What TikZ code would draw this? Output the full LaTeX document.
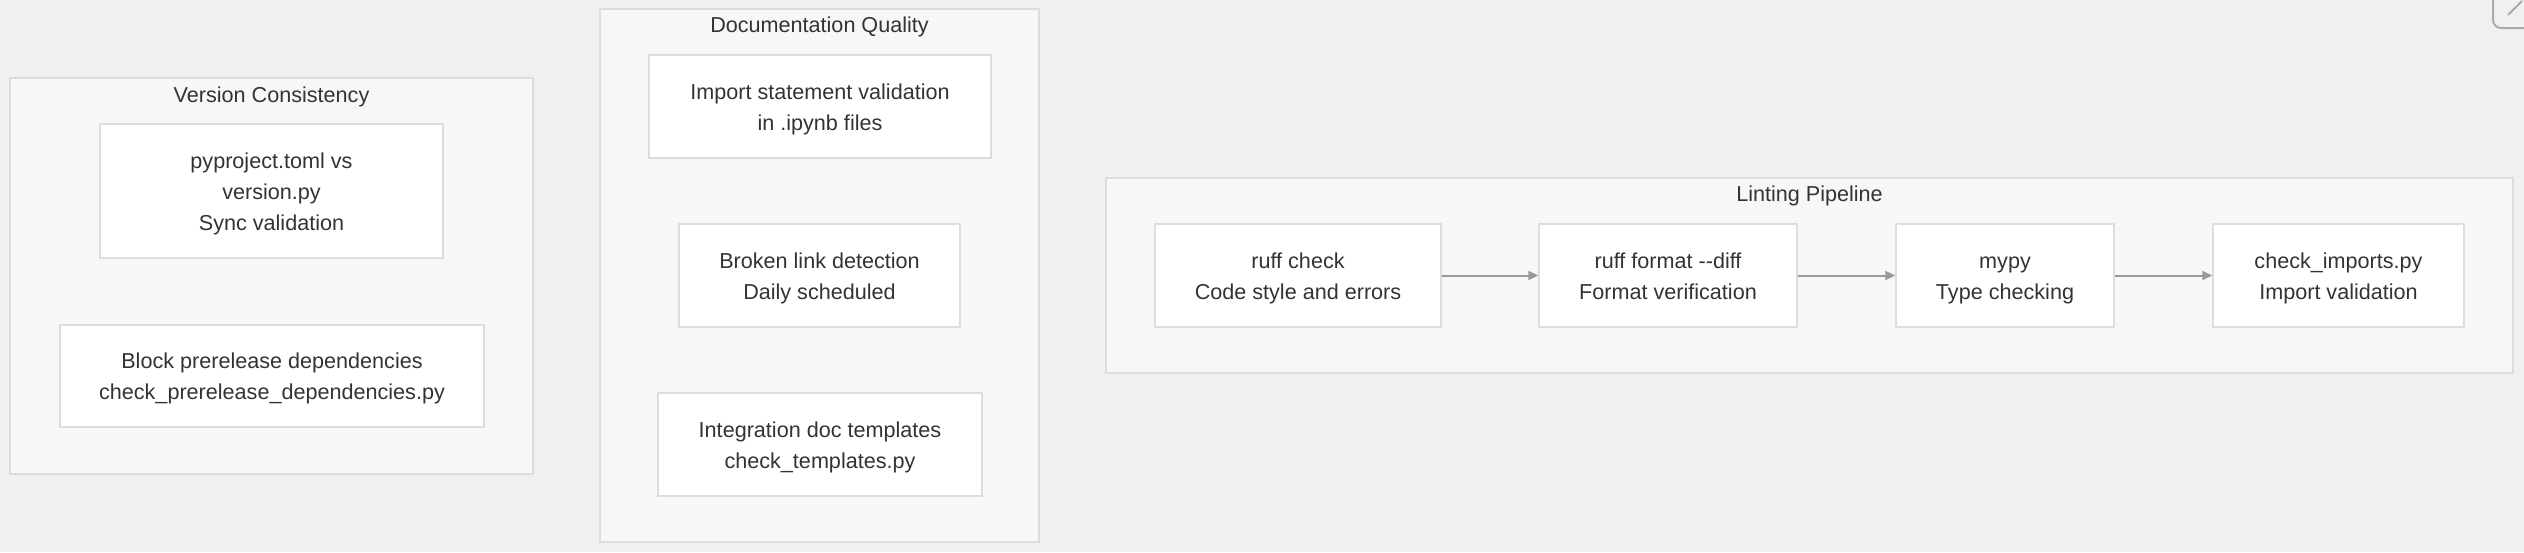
\documentclass[tikz,border=0pt]{standalone}
\usepackage{fontspec}
\setmainfont{Liberation Sans}
\usetikzlibrary{arrows.meta}
\definecolor{bg}{HTML}{F1F0EE}
\definecolor{clfill}{HTML}{F7F7F7}
\definecolor{clline}{HTML}{DCDCDC}
\definecolor{ndline}{HTML}{DDDDDD}
\definecolor{txt}{HTML}{333333}
\definecolor{arr}{HTML}{999999}
\definecolor{icon}{HTML}{AAAAAA}
\newcommand{\topstrt}{\rule{0pt}{22pt}}
\newcommand{\botstrt}{\rule[-6pt]{0pt}{6pt}}
\begin{document}
\begin{tikzpicture}[x=1pt,y=-1pt,
  cluster/.style={draw=clline, fill=clfill, line width=1.5pt},
  box/.style={draw=ndline, fill=white, line width=1.5pt, inner sep=0pt, align=center,
    text=txt, font=\fontsize{21.6}{31}\selectfont},
  title/.style={text=txt, font=\fontsize{21.6}{25}\selectfont, inner sep=0pt, anchor=base},
  flow/.style={draw=arr, line width=2pt, -{Triangle[length=10pt,width=9pt]}}]
\fill[bg] (0,0) rectangle (2524,552);
\useasboundingbox (0,0) rectangle (2524,552);

% clusters
\draw[cluster] (10,78) rectangle (533,474);
\draw[cluster] (600,9) rectangle (1039,542);
\draw[cluster] (1106,178) rectangle (2513,373);

\node[title] (tv) at (271.5,102) {Version Consistency};
\node[title] (td) at (819.5,32) {Documentation Quality};
\node[title] (tl) at (1809.5,201) {Linting Pipeline};

% Version Consistency
\node[box, minimum width=343pt, minimum height=134pt] (pyp) at (271.5,191) {\topstrt pyproject.toml vs\\version.py\\Sync validation\botstrt};
\node[box, minimum width=424pt, minimum height=102pt] (blk) at (272,376) {\topstrt Block prerelease dependencies\\check\_prerelease\_dependencies.py\botstrt};

% Documentation Quality
\node[box, minimum width=342pt, minimum height=103pt] (imp) at (820,106.5) {\topstrt Import statement validation\\in .ipynb files\botstrt};
\node[box, minimum width=281pt, minimum height=103pt] (brk) at (819.5,275.5) {\topstrt Broken link detection\\Daily scheduled\botstrt};
\node[box, minimum width=324pt, minimum height=103pt] (itg) at (820,444.5) {\topstrt Integration doc templates\\check\_templates.py\botstrt};

% Linting Pipeline
\node[box, minimum width=286pt, minimum height=103pt] (rc) at (1298,275.5) {\topstrt ruff check\\Code style and errors\botstrt};
\node[box, minimum width=258pt, minimum height=103pt] (rf) at (1668,275.5) {\topstrt ruff format -{}-diff\\Format verification\botstrt};
\node[box, minimum width=218pt, minimum height=103pt] (mp) at (2005,275.5) {\topstrt mypy\\Type checking\botstrt};
\node[box, minimum width=251pt, minimum height=103pt] (ci) at (2338.5,275.5) {\topstrt check\_imports.py\\Import validation\botstrt};

\draw[flow] (rc) -- (rf);
\draw[flow] (rf) -- (mp);
\draw[flow] (mp) -- (ci);

% corner button
\draw[icon, line width=2pt, rounded corners=8pt] (2493,0) -- (2493,28) -- (2530,28);
\draw[icon, line width=2pt] (2508,15) -- (2522,1);
\end{tikzpicture}
\end{document}
